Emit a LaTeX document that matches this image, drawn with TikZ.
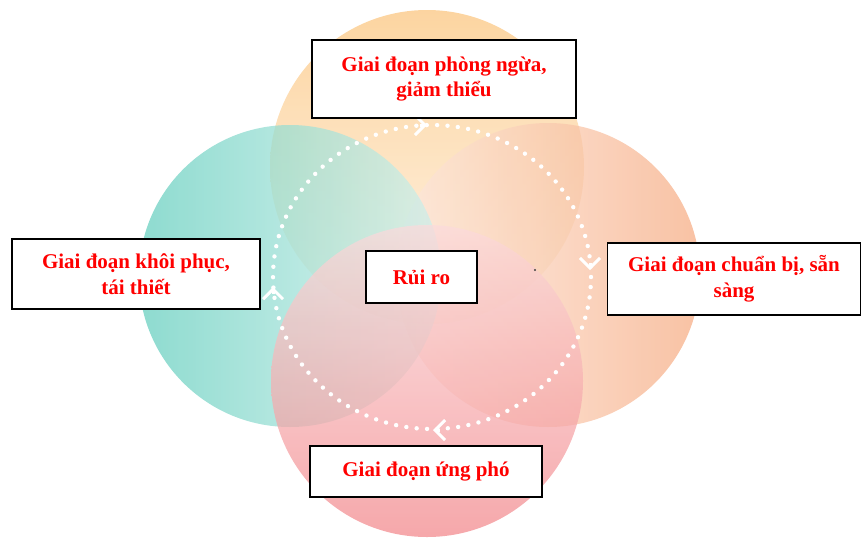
\documentclass[tikz,border=0pt]{standalone}
\usepackage{fontspec}
\setmainfont{Liberation Serif}
\usepackage{xcolor}
\usepackage{tikz}
\usetikzlibrary{arrows.meta, positioning}

\definecolor{prevc}{HTML}{FBC47C}
\definecolor{prepc}{HTML}{F6AA80}
\definecolor{respc}{HTML}{F2868A}
\definecolor{recoc}{HTML}{62CDBD}

\begin{document}
\begin{tikzpicture}[
  x=1pt, y=-1pt,
  disc/.style={opacity=0.72},
  stage/.style={rectangle, draw, line width=1.6pt, fill=white, align=center, text=red, inner sep=0pt, font=\fontsize{21}{25.5}\selectfont\bfseries},
  ring/.style={white, line width=4.4pt, line cap=round, dash pattern=on 0pt off 10.4pt},
  chev/.style={white, line width=3pt, -{Straight Barb[length=10pt, width=20pt]}}
]
  \useasboundingbox (0,0) rectangle (862,539);

  % four phase discs
  \shade[disc, top color=prevc, bottom color=prevc!25] (427,167) circle[radius=157pt];
  \shade[disc, right color=prepc, left color=prepc!25] (548,275) circle[radius=152pt];
  \shade[disc, left color=recoc, right color=recoc!30] (290,276) circle[radius=151pt];
  \shade[disc, bottom color=respc, top color=respc!30] (427,381) circle[radius=156pt];

  % dotted cycle with chevrons
  \draw[ring] (432,277) ellipse[x radius=159pt, y radius=152pt];
  \draw[chev] (420,125) -- (427,125);
  \draw[chev] (590,263) -- (590,270);
  \draw[chev] (440,430) -- (433,430);
  \draw[chev] (273,294) -- (273,287);
  \fill[black!75] (535,270) circle[radius=1.1pt];

  % labels
  \node[stage, minimum width=264pt, minimum height=78pt] (prev) at (444,79) {Giai đoạn phòng ngừa,\\giảm thiểu};
  \node[stage, minimum width=248pt, minimum height=70pt] (reco) at (136,274) {Giai đoạn khôi phục,\\tái thiết};
  \node[stage, minimum width=253pt, minimum height=72pt] (prep) at (734,279) {Giai đoạn chuẩn bị, sẵn\\sàng};
  \node[stage, minimum width=232pt, minimum height=51pt] (resp) at (426,471.5) {Giai đoạn ứng phó};
  \node[stage, minimum width=111pt, minimum height=52pt] (risk) at (421.5,277) {Rủi ro};
\end{tikzpicture}
\end{document}
